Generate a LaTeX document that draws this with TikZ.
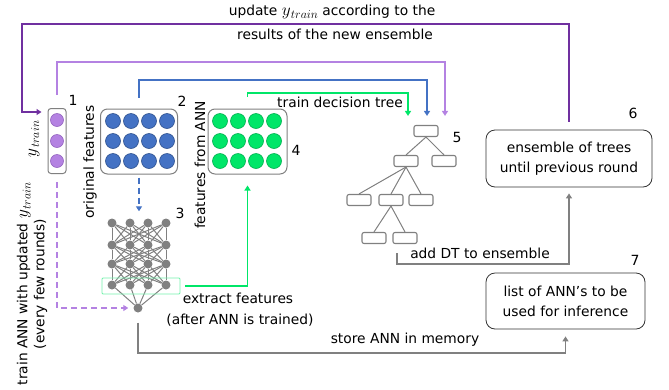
\documentclass[tikz,border=0pt]{standalone}
\usepackage{fontspec}
\setmainfont{DejaVu Sans}
\usetikzlibrary{arrows.meta}
\definecolor{dpur}{HTML}{7030A0}
\definecolor{lpur}{HTML}{B482E2}
\definecolor{lpurd}{HTML}{9464C0}
\definecolor{bblue}{HTML}{4472C4}
\definecolor{bblued}{HTML}{2F528F}
\definecolor{ggreen}{HTML}{00E668}
\definecolor{ggreend}{HTML}{00B050}
\definecolor{ggray}{HTML}{808080}
\newcommand{\ytr}{{\fontsize{16}{16}\selectfont$y$}\kern0.3pt\raisebox{-3.2pt}{\fontsize{12.5}{13}\selectfont$train$}}
\begin{document}
\begin{tikzpicture}[x=1pt,y=-1pt,
  every node/.style={font=\fontsize{13.8}{15}\selectfont},
  arr/.style={line width=1.6pt,-{Triangle[length=5pt,width=6pt]}},
  holder/.style={draw=ggray,line width=1pt,rounded corners=7pt,inner sep=0pt},
  pcirc/.style={circle,inner sep=0pt,minimum size=13pt,fill=lpur,draw=lpurd,line width=0.6pt},
  bcirc/.style={circle,inner sep=0pt,minimum size=15pt,fill=bblue,draw=bblued,line width=0.6pt},
  gcirc/.style={circle,inner sep=0pt,minimum size=15pt,fill=ggreen,draw=ggreend,line width=0.6pt},
  nn/.style={circle,inner sep=0pt,minimum size=9pt,fill=ggray},
  nnedge/.style={draw=ggray,line width=1pt},
  tbox/.style={draw=ggray,line width=1.1pt,rounded corners=2pt,minimum width=24pt,minimum height=11pt,inner sep=0pt},
  tedge/.style={draw=ggray,line width=1pt},
  bigbox/.style={draw=black!80,line width=0.8pt,rounded corners=9pt,align=center,inner sep=0pt},
  num/.style={font=\fontsize{14}{16}\selectfont}
]
\useasboundingbox (0,0) rectangle (669,389);

% holder 1 : y_train
\node[holder,rounded corners=3pt,minimum width=18pt,minimum height=65pt] (ytr) at (57,141) {};
\foreach \i/\y in {1/120,2/141,3/161}{\node[pcirc] (p\i) at (57,\y) {};}
\node[rotate=90] (ylab) at (34,139) {\ytr};
\node[num] (n1) at (73,100) {1};

% holder 2 : original features
\node[holder,minimum width=77pt,minimum height=65pt] (bbox) at (139,141.5) {};
\foreach \x [count=\i] in {113,131,149,167}{
  \foreach \y [count=\j] in {121,141,161}{\node[bcirc] (b\i\j) at (\x,\y) {};}}
\node[rotate=90] (olab) at (90,162) {original features};
\node[num] (n2) at (182,101) {2};

% holder 4 : features from ANN
\node[holder,minimum width=79pt,minimum height=65pt] (gbox) at (247.5,141.5) {};
\foreach \x [count=\i] in {220,238,256,274}{
  \foreach \y [count=\j] in {121,141,161}{\node[gcirc] (g\i\j) at (\x,\y) {};}}
\node[rotate=90] (flab) at (200,165) {features from ANN};
\node[num] (n4) at (296,150) {4};

% neural network 3
\foreach \y [count=\r] in {223,245,264,285}{
  \foreach \x [count=\c] in {112,130,148,166}{\node[nn] (a\r\c) at (\x,\y) {};}}
\node[nn] (out) at (138,308) {};
\foreach \r/\s in {1/2,2/3,3/4}{
  \foreach \c in {1,...,4}{\foreach \d in {1,...,4}{\draw[nnedge] (a\r\c) -- (a\s\d);}}}
\foreach \c in {1,...,4}{\draw[nnedge] (a4\c) -- (out);}
\node[draw=ggreen!55,line width=0.8pt,rounded corners=1pt,minimum width=78pt,minimum height=16pt,inner sep=0pt] (gsel) at (141,286) {};
\node[num] (n3) at (180,213) {3};

% decision tree 5
\node[tbox] (root) at (426,131) {};
\node[tbox] (l21) at (406,161) {};
\node[tbox] (l22) at (444,161) {};
\node[tbox] (l31) at (359,200) {};
\node[tbox] (l32) at (391,200) {};
\node[tbox] (l33) at (421,200) {};
\node[tbox] (l41) at (374,238) {};
\node[tbox] (l42) at (405,238) {};
\draw[tedge] (root.south) -- (l21.north);
\draw[tedge] (root.south) -- (l22.north);
\draw[tedge] (l21.south) -- (l31.north);
\draw[tedge] (l21.south) -- (l32.north);
\draw[tedge] (l21.south) -- (l33.north);
\draw[tedge] (l32.south) -- (l41.north);
\draw[tedge] (l32.south) -- (l42.north);
\node[num] (n5) at (457,137) {5};

% boxes 6 and 7
\node[bigbox,minimum width=166pt,minimum height=57pt] (ens) at (569,158.5) {ensemble of trees\\[5pt]until previous round};
\node[num] (n6) at (633,113) {6};
\node[bigbox,minimum width=159pt,minimum height=56pt] (lst) at (565.5,301) {list of ANN's to be\\[5pt]used for inference};
\node[num] (n7) at (635,260) {7};

% connectors
\coordinate (topL) at (22,24);
\draw[arr,dpur] ([yshift=8pt]ens.north) |- (topL) |- ([xshift=-6pt,yshift=-4pt]ytr.north west);
\node (t1) at (332,12) {update \ytr{} according to the};
\node (t2) at (335,34) {results of the new ensemble};

\coordinate (lpTop) at (57,62);
\draw[arr,lpur] ([yshift=13pt]ytr.north) -- (ytr.north |- lpTop) -| ([xshift=19pt,yshift=9pt]root.north);
\coordinate (blTop) at (140,80);
\draw[arr,bblue] ([yshift=11pt]bbox.north) -- (bbox.north |- blTop) -| ([xshift=1pt,yshift=9pt]root.north);
\coordinate (grTop) at (247,93);
\draw[arr,ggreen] ([yshift=12pt]gbox.north) -- (gbox.north |- grTop) -| ([xshift=-18pt,yshift=9pt]root.north);
\node (t3) at (340,102) {train decision tree};

\draw[arr,bblue,dash pattern=on 6pt off 4pt] ([yshift=-3pt]bbox.south) -- ([yshift=7pt]a12.north -| bbox.south);
\draw[arr,lpur,dash pattern=on 6pt off 4pt] ([yshift=-8pt]ytr.south) |- ([xshift=-5pt]out.west);
\node[rotate=90,align=center] (t4) at (32,284) {train ANN with updated \ytr\\[2pt](every few rounds)};

\draw[arr,ggreen] ([xshift=5pt]gsel.east) -| ([yshift=-11pt]gbox.south);
\node (t5) at (238,298) {extract features};
\node (t6) at (240,320) {(after ANN is trained)};

\draw[arr,ggray] ([yshift=-10pt]out.south) -- ++(0,30) -| ([yshift=-7pt]lst.south);
\node (t7) at (405,340) {store ANN in memory};

\draw[arr,ggray] ([xshift=-8pt,yshift=-9pt]l42.south) -- ++(0,11) -| ([yshift=-6pt]ens.south);
\node (t8) at (480,253) {add DT to ensemble};
\end{tikzpicture}
\end{document}
